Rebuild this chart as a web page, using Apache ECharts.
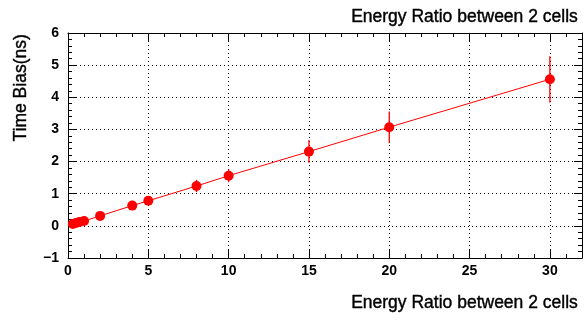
<!DOCTYPE html>
<html><head><meta charset="utf-8">
<script src="https://cdn.jsdelivr.net/npm/echarts@6/dist/echarts.min.js"></script>
<style>html,body{margin:0;padding:0;background:#fff}#c{width:585px;height:320px}</style>
</head><body><div id="c"></div>
<script>
const xValues = [0.3, 0.5, 0.7, 1, 2, 4, 5, 8, 10, 15, 20, 30];
const yValues = [0.06, 0.09, 0.12, 0.15, 0.31, 0.63, 0.78, 1.24, 1.56, 2.31, 3.07, 4.56];
const yErrors = [0.03, 0.03, 0.04, 0.05, 0.06, 0.08, 0.1, 0.19, 0.2, 0.35, 0.49, 0.72];
const titleText = "Energy Ratio between 2 cells";
const xAxisTitle = "Energy Ratio between 2 cells";
const yAxisTitle = "Time Bias(ns)";

const FONT = "Liberation Sans";
const pts = xValues.map((x, i) => [x, yValues[i]]);
const errData = xValues.map((x, i) => [x, yValues[i], yErrors[i]]);

const chart = echarts.init(document.getElementById('c'), null, {renderer: 'canvas'});
const axisCommon = {
  axisLine: {show: true, onZero: false, lineStyle: {color: '#000', width: 1}},
  axisTick: {show: true, inside: true, length: 8, lineStyle: {color: '#000'}},
  minorTick: {show: true, splitNumber: 5, length: 4, lineStyle: {color: '#000'}},
};
const titleStyle = {fontFamily: FONT, fontSize: 17.5, fontWeight: 'normal', fill: '#000', stroke: '#000', lineWidth: 0.4};
chart.setOption({
  animation: false,
  backgroundColor: '#fff',
  grid: {left: 68, right: 3, top: 33, bottom: 62, containLabel: false, outerBoundsMode: 'none'},
  graphic: [
    {type: 'text', right: 7, top: 8, style: Object.assign({text: titleText}, titleStyle)},
    {type: 'text', right: 7, top: 294, style: Object.assign({text: xAxisTitle}, titleStyle)},
    {type: 'text', left: 12, top: 34, rotation: Math.PI / 2, originX: 0, originY: 0,
      style: Object.assign({text: yAxisTitle}, titleStyle)}
  ],
  xAxis: [
    Object.assign({type: 'value', min: 0, max: 32, interval: 5, position: 'bottom',
      axisLabel: {fontFamily: FONT, fontSize: 14, fontWeight: 'bold', color: '#000', margin: 6, showMaxLabel: false},
      splitLine: {show: true, lineStyle: {type: [1, 3], color: '#000', width: 1}}}, axisCommon),
    Object.assign({type: 'value', min: 0, max: 32, interval: 5, position: 'top',
      axisLabel: {show: false}, splitLine: {show: false}}, axisCommon)
  ],
  yAxis: [
    Object.assign({type: 'value', min: -1, max: 6, interval: 1, position: 'left',
      axisLabel: {fontFamily: FONT, fontSize: 14, fontWeight: 'bold', color: '#000', margin: 9,
        formatter: v => String(v).replace('-', '\u2212')},
      splitLine: {show: true, lineStyle: {type: [1, 3], color: '#000', width: 1}}}, axisCommon),
    Object.assign({type: 'value', min: -1, max: 6, interval: 1, position: 'right',
      axisLabel: {show: false}, splitLine: {show: false}}, axisCommon)
  ],
  series: [
    {
      type: 'custom', xAxisIndex: 0, yAxisIndex: 0, z: 3,
      data: errData,
      renderItem: function (params, api) {
        const x = api.value(0), y = api.value(1), e = api.value(2);
        const p1 = api.coord([x, y - e]);
        const p2 = api.coord([x, y + e]);
        return {type: 'line', shape: {x1: p1[0], y1: p1[1], x2: p2[0], y2: p2[1]},
          style: {stroke: '#ff0000', lineWidth: 1.3}};
      }
    },
    {
      type: 'line', xAxisIndex: 0, yAxisIndex: 0, z: 4,
      data: pts, symbol: 'circle', symbolSize: 10, showAllSymbol: true,
      lineStyle: {color: '#ff0000', width: 1},
      itemStyle: {color: '#ff0000'}
    }
  ]
});
</script></body></html>
